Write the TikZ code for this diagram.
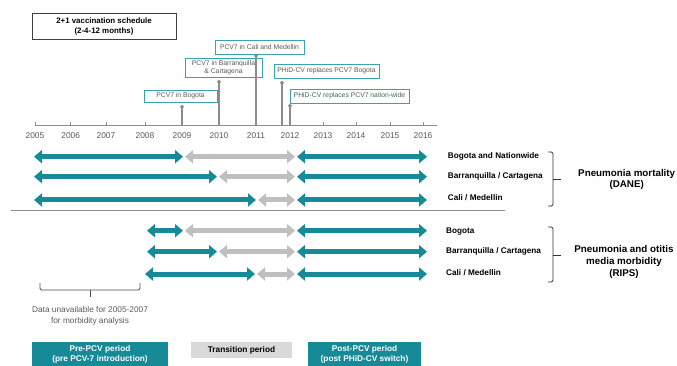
\documentclass[tikz,border=0pt]{standalone}
\usepackage{fontspec}
\setmainfont{Liberation Sans}
\usetikzlibrary{arrows.meta}

\definecolor{pcvteal}{HTML}{168A96}
\definecolor{transgray}{HTML}{BFBFBF}
\definecolor{boxteal}{HTML}{3AA2AB}
\definecolor{txtgray}{HTML}{595959}
\definecolor{axisgray}{HTML}{8C8C8C}
\definecolor{lggray}{HTML}{D9D9D9}

\tikzset{
  prepost/.style={draw=pcvteal, line width=5pt,
    {Triangle[length=8pt,width=13pt]}-{Triangle[length=8pt,width=13pt]}},
  transit/.style={prepost, draw=transgray},
  event/.style={draw=boxteal, line width=0.9pt, fill=white, text=txtgray,
    font=\fontsize{6.8}{7.7}\selectfont, align=center, inner sep=0pt},
  stem/.style={draw=axisgray, line width=1.5pt, -{Circle[length=3.5pt]}},
  rowlabel/.style={anchor=west, inner sep=0pt, font=\bfseries\fontsize{8.2}{9.6}\selectfont},
  grouplabel/.style={align=center, inner sep=0pt, font=\bfseries\fontsize{9.8}{11.8}\selectfont},
  legendbox/.style={align=center, inner sep=0pt, font=\bfseries\fontsize{8.3}{10}\selectfont},
  bracket/.style={draw=black!80, line width=0.8pt, rounded corners=1.5pt}
}

\begin{document}
\begin{tikzpicture}[x=1pt, y=-1pt]
    \useasboundingbox (0,0) rectangle (677,366);

    % schedule
    \node[draw=black!75, line width=0.9pt, minimum width=144pt, minimum height=26pt,
      align=center, inner sep=0pt, font=\bfseries\fontsize{7.9}{10}\selectfont]
      (sched) at (104,26) {2+1 vaccination schedule\\(2-4-12 months)};

    % time axis
    \draw[axisgray, line width=1pt] (35,126) -- (437,126);
    \foreach \x/\yr in {35/2005, 70.7/2006, 106/2007, 145/2008, 182/2009, 219/2010,
                        256/2011, 290/2012, 323/2013, 356/2014, 390/2015, 423/2016} {
      \draw[axisgray, line width=1pt] (\x,126) -- (\x,122);
      \coordinate (t\yr) at (\x,126);
      \node[text=txtgray, font=\fontsize{8.4}{10}\selectfont] (yr\yr) at (\x,136) {\yr};
    }
    \coordinate (phidbog) at (282,126);

    % vaccine events
    \node[event, minimum width=73pt, minimum height=12pt] (evbog) at (180.5,96) {PCV7 in Bogota};
    \node[event, minimum width=77pt, minimum height=19pt] (evbar) at (223.5,67.5) {PCV7 in Barranquilla\\\& Cartagena};
    \node[event, minimum width=89pt, minimum height=14pt] (evcal) at (259.5,47) {PCV7 in Cali and Medellin};
    \node[event, minimum width=105pt, minimum height=14pt] (evphb) at (326.5,71) {PHiD-CV replaces PCV7 Bogota};
    \node[event, minimum width=119pt, minimum height=14pt] (evphn) at (349.5,96) {PHiD-CV replaces PCV7 nation-wide};
    \coordinate (topbog) at (182,105);
    \coordinate (topbar) at (219,80);
    \coordinate (topcal) at (256,54);
    \coordinate (topphb) at (282,81);
    \coordinate (topphn) at (290,104);
    \draw[stem] (t2009) -- (topbog);
    \draw[stem] (t2010) -- (topbar);
    \draw[stem] (t2011) -- (topcal);
    \draw[stem] (phidbog) -- (topphb);
    \draw[stem] (t2012) -- (topphn);

    % mortality periods
    \draw[prepost] (34,156.7) -- (183,156.7);
    \draw[transit] (185,156.7) -- (295,156.7);
    \draw[prepost] (297,156.7) -- (427,156.7);
    \draw[prepost] (34,176.7) -- (217,176.7);
    \draw[transit] (219,176.7) -- (295,176.7);
    \draw[prepost] (297,176.7) -- (427,176.7);
    \draw[prepost] (34,200) -- (256,200);
    \draw[transit] (258,200) -- (295,200);
    \draw[prepost] (297,200) -- (427,200);
    \node[rowlabel] (mbog) at (447.7,156) {Bogota and Nationwide};
    \node[rowlabel] (mbar) at (447.7,176) {Barranquilla / Cartagena};
    \node[rowlabel] (mcal) at (447.7,198) {Cali / Medellin};
    \draw[bracket] (548,152) -- (553,152) -- (553,206) -- (548,206);
    \draw[bracket] (553,179) -- (561,179);
    \node[grouplabel] (dane) at (626.7,179.5) {Pneumonia mortality\\(DANE)};

    \draw[axisgray, line width=0.8pt] (11,210.7) -- (505,210.7);

    % morbidity periods
    \draw[prepost] (147,230.7) -- (183,230.7);
    \draw[transit] (185,230.7) -- (295,230.7);
    \draw[prepost] (297,230.7) -- (427,230.7);
    \draw[prepost] (147,251.7) -- (217,251.7);
    \draw[transit] (219,251.7) -- (295,251.7);
    \draw[prepost] (297,251.7) -- (427,251.7);
    \draw[prepost] (145,274) -- (255,274);
    \draw[transit] (257,274) -- (295,274);
    \draw[prepost] (297,274) -- (427,274);
    \node[rowlabel] (rbog) at (446,231.7) {Bogota};
    \node[rowlabel] (rbar) at (446,251.7) {Barranquilla / Cartagena};
    \node[rowlabel] (rcal) at (446,273) {Cali / Medellin};
    \draw[bracket] (548,227) -- (553,227) -- (553,282) -- (548,282);
    \draw[bracket] (553,255) -- (561,255);
    \node[grouplabel] (rips) at (624,262) {Pneumonia and otitis\\media morbidity\\(RIPS)};

    % no morbidity data
    \draw[bracket, draw=black!70] (40,283) -- (40,290) -- (140,290) -- (140,283);
    \draw[bracket, draw=black!70] (90,290) -- (90,297);
    \node[text=txtgray, align=center, inner sep=0pt, font=\fontsize{8.3}{11}\selectfont]
      (nodata) at (90,316) {Data unavailable for 2005-2007\\for morbidity analysis};

    % legend
    \node[legendbox, fill=pcvteal, text=white, minimum width=136pt, minimum height=25pt]
      (lgpre) at (100,354.5) {Pre-PCV period\\(pre PCV-7 introduction)};
    \node[legendbox, fill=lggray, text=black, minimum width=101pt, minimum height=16pt]
      (lgtrans) at (241.5,350) {Transition period};
    \node[legendbox, fill=pcvteal, text=white, minimum width=113pt, minimum height=25pt]
      (lgpost) at (364.5,354.5) {Post-PCV period\\(post PHiD-CV switch)};
  \end{tikzpicture}
\end{document}
